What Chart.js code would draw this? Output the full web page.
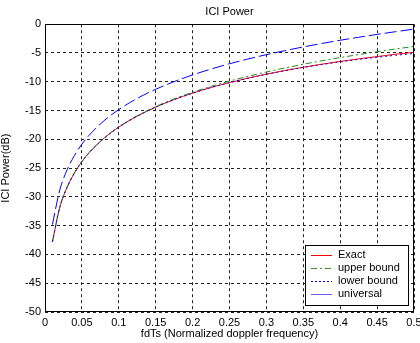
<!DOCTYPE html>
<html>
<head>
<meta charset="utf-8">
<script src="https://cdn.jsdelivr.net/npm/chart.js@4.4.1/dist/chart.umd.min.js"></script>
<style>
  html, body { margin: 0; padding: 0; background: #fff; }
  #wrap { width: 420px; height: 343px; }
</style>
</head>
<body>
<div id="wrap"><canvas id="iciChart" width="420" height="343"></canvas></div>
<script>
// fdTs sample points and ICI power (dB)
const fdTs = [0.01, 0.02, 0.03, 0.04, 0.05, 0.06, 0.08, 0.1, 0.125, 0.15, 0.175, 0.2,
  0.225, 0.25, 0.275, 0.3, 0.325, 0.35, 0.375, 0.4, 0.425, 0.45, 0.475, 0.5];
const exact = [-37.84, -31.83, -28.32, -25.83, -23.87, -22.30, -19.82, -17.88, -15.97, -14.41,
  -13.09, -11.99, -10.99, -10.15, -9.37, -8.68, -8.05, -7.47, -6.95, -6.47, -6.02, -5.63, -5.22, -4.89];
const upperBound = [-37.84, -31.82, -28.30, -25.80, -23.86, -22.28, -19.78, -17.84, -15.90, -14.32,
  -12.98, -11.82, -10.80, -9.88, -9.06, -8.30, -7.61, -6.96, -6.36, -5.80, -5.28, -4.78, -4.31, -3.86];
const lowerBound = [-37.84, -31.83, -28.32, -25.83, -23.87, -22.30, -19.82, -17.88, -15.97, -14.41,
  -13.09, -11.99, -10.99, -10.16, -9.39, -8.70, -8.08, -7.52, -7.01, -6.54, -6.12, -5.74, -5.40, -5.09];
const universal = [-34.83, -28.81, -25.29, -22.79, -20.85, -19.27, -16.77, -14.83, -12.89, -11.31,
  -9.97, -8.81, -7.79, -6.87, -6.05, -5.29, -4.60, -3.95, -3.35, -2.79, -2.27, -1.77, -1.30, -0.85];

const FONT = '"Liberation Sans", Arial, sans-serif';

function toPoints(ys) {
  return ys.map((y, i) => ({ x: fdTs[i], y: y }));
}

// legend box drawn inside the plot, lower right
const boxLegend = {
  id: 'boxLegend',
  afterDraw(chart) {
    const c = chart.ctx;
    const items = [
      { label: 'Exact', color: 'rgb(255,0,0)', dash: [] },
      { label: 'upper bound', color: 'rgb(40,150,40)', dash: [6, 3, 2, 3] },
      { label: 'lower bound', color: 'rgb(0,0,255)', dash: [2, 2] },
      { label: 'universal', color: 'rgb(100,100,240)', dash: [] }
    ];
    c.save();
    c.setLineDash([]);
    c.fillStyle = '#fff';
    c.fillRect(305, 245, 103, 60);
    c.strokeStyle = '#000';
    c.lineWidth = 1;
    c.strokeRect(305.5, 245.5, 103, 60);
    c.font = '11px ' + FONT;
    c.textBaseline = 'middle';
    c.textAlign = 'left';
    items.forEach((it, i) => {
      const y = 254.5 + i * 13.3;
      c.beginPath();
      c.strokeStyle = it.color;
      c.lineWidth = 1;
      c.setLineDash(it.dash);
      c.moveTo(311, Math.round(y) + 0.5);
      c.lineTo(332, Math.round(y) + 0.5);
      c.stroke();
      c.fillStyle = '#000';
      c.fillText(it.label, 338, y);
    });
    c.restore();
  }
};

// full frame around the axes
const frame = {
  id: 'frame',
  afterDatasetsDraw(chart) {
    const a = chart.chartArea;
    const c = chart.ctx;
    c.save();
    c.setLineDash([]);
    c.strokeStyle = '#000';
    c.lineWidth = 1;
    c.strokeRect(Math.round(a.left) + 0.5, Math.round(a.top) + 0.5,
      Math.round(a.right - a.left) - 1, Math.round(a.bottom - a.top) - 1);
    c.restore();
  }
};

const ctx = document.getElementById('iciChart').getContext('2d');
new Chart(ctx, {
  type: 'line',
  data: {
    datasets: [
      { label: 'Exact', data: toPoints(exact), borderColor: 'rgb(255,0,0)', borderWidth: 1, order: 3 },
      { label: 'upper bound', data: toPoints(upperBound), borderColor: 'rgb(30,140,30)', borderWidth: 1,
        borderDash: [6, 3, 2, 3], order: 2 },
      { label: 'lower bound', data: toPoints(lowerBound), borderColor: 'rgb(0,0,255)', borderWidth: 1,
        borderDash: [2, 3], order: 1 },
      { label: 'universal', data: toPoints(universal), borderColor: 'rgb(0,0,255)', borderWidth: 1,
        borderDash: [12, 4], order: 0 }
    ]
  },
  options: {
    responsive: false,
    animation: false,
    layout: { padding: { left: 0, right: 6, top: 0, bottom: 0 } },
    elements: {
      point: { radius: 0 },
      line: { cubicInterpolationMode: 'monotone', fill: false }
    },
    plugins: {
      legend: { display: false },
      tooltip: { enabled: false },
      title: {
        display: true,
        text: 'ICI Power',
        fullSize: false,
        color: '#000',
        font: { family: FONT, size: 11, weight: 'normal' },
        padding: { top: 5, bottom: 6 }
      }
    },
    scales: {
      x: {
        type: 'linear',
        min: 0,
        max: 0.5,
        border: { display: false, dash: [3, 3] },
        grid: { color: '#222', lineWidth: 1, drawTicks: false },
        ticks: {
          stepSize: 0.05,
          padding: 4,
          maxRotation: 0,
          color: '#000',
          font: { family: FONT, size: 11 },
          callback: v => String(+v.toFixed(2))
        },
        title: {
          display: true,
          text: 'fdTs (Normalized doppler frequency)',
          color: '#000',
          font: { family: FONT, size: 11, lineHeight: 1 },
          padding: { top: 0, bottom: 4 }
        },
        afterFit(scale) {
          scale.height = 31;
          scale.paddingLeft = 0;
          scale.paddingRight = 0;
        }
      },
      y: {
        min: -50,
        max: 0,
        border: { display: false, dash: [3, 3] },
        grid: { color: '#222', lineWidth: 1, drawTicks: false },
        ticks: {
          stepSize: 5,
          padding: 4,
          color: '#000',
          font: { family: FONT, size: 11 }
        },
        title: {
          display: true,
          text: 'ICI Power(dB)',
          color: '#000',
          font: { family: FONT, size: 11, lineHeight: 1 },
          padding: 0
        },
        afterFit(scale) {
          scale.width = 45;
          scale.paddingTop = 0;
          scale.paddingBottom = 0;
        }
      }
    }
  },
  plugins: [frame, boxLegend]
});
</script>
</body>
</html>
